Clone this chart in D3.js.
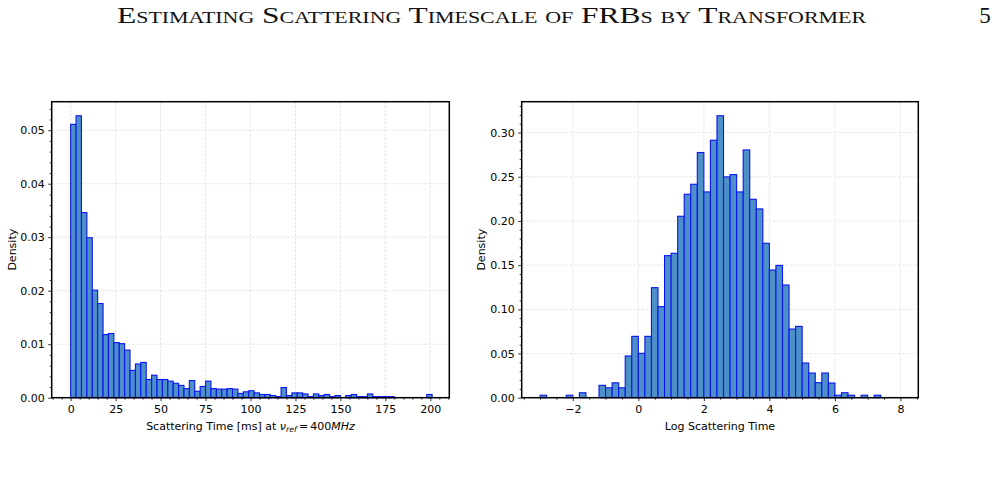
<!DOCTYPE html>
<html><head><meta charset="utf-8">
<script src="https://cdn.jsdelivr.net/npm/d3@7"></script>
<style>body{margin:0;background:#fff} svg{display:block}</style>
</head><body>
<svg id="c" width="996" height="504"></svg>
<script>
// ---------- data ----------
const titleText = "Estimating Scattering Timescale of FRBs by Transformer";
const pageNumber = "5";

const leftBinStart = 0;
const leftBinWidth = 3;
const leftDensity = [
  0.0511, 0.0527, 0.0346, 0.0299, 0.0201, 0.0176, 0.0118, 0.0120, 0.0103, 0.0101,
  0.0089, 0.0051, 0.0063, 0.0066, 0.0034, 0.0042, 0.0034, 0.0034, 0.0031, 0.0027,
  0.0023, 0.0017, 0.0032, 0.0012, 0.0021, 0.0031, 0.0017, 0.0016, 0.0016, 0.0017,
  0.0016, 0.0008, 0.0011, 0.0013, 0.0009, 0.0006, 0.0006, 0.0004, 0.0002, 0.0019,
  0.0004, 0.0009, 0.0009, 0.0007, 0.0002, 0.0007, 0.0004, 0.0006, 0.0002, 0.0004,
  0.0000, 0.0004, 0.0006, 0.0002, 0.0002, 0.0007, 0.0002, 0.0002, 0.0002, 0.0002,
  0.0000, 0.0000, 0.0000, 0.0000, 0.0000, 0.0000, 0.0006
];
const leftXTicks = [0, 25, 50, 75, 100, 125, 150, 175, 200];
const leftYTicks = [0.00, 0.01, 0.02, 0.03, 0.04, 0.05];
const leftXLim = [-10.55, 210.55];
const leftYLim = [0, 0.05533];

const rightBinStart = -3.0;
const rightBinWidth = 0.2;
const rightDensity = [
  0.0028, 0.0000, 0.0000, 0.0000, 0.0028, 0.0000, 0.0056, 0.0000, 0.0000, 0.0140,
  0.0112, 0.0168, 0.0112, 0.0472, 0.0694, 0.0502, 0.0694, 0.1245, 0.1030, 0.1607,
  0.1634, 0.2053, 0.2302, 0.2415, 0.2774, 0.2328, 0.2913, 0.3190, 0.2498, 0.2524,
  0.2328, 0.2803, 0.2245, 0.2136, 0.1747, 0.1445, 0.1497, 0.1275, 0.0777, 0.0807,
  0.0392, 0.0279, 0.0170, 0.0279, 0.0166, 0.0028, 0.0056, 0.0028, 0.0000, 0.0028,
  0.0000, 0.0028
];
const rightXTicks = [-2, 0, 2, 4, 6, 8];
const rightYTicks = [0.00, 0.05, 0.10, 0.15, 0.20, 0.25, 0.30];
const rightXLim = [-3.56, 8.545];
const rightYLim = [0, 0.3349];

// ---------- drawing ----------
const svg = d3.select("#c");
const FONT = "DejaVu Sans, sans-serif";
const FS = 11;

svg.append("text")
  .attr("x", 491.5).attr("y", 23)
  .attr("text-anchor", "middle")
  .attr("textLength", 749).attr("lengthAdjust", "spacingAndGlyphs")
  .style("font-family", "Liberation Serif, DejaVu Serif, serif")
  .style("font-variant", "small-caps")
  .style("font-size", "23px")
  .attr("fill", "#111")
  .text(titleText);

svg.append("text")
  .attr("x", 985).attr("y", 23)
  .attr("text-anchor", "middle")
  .style("font-family", "Liberation Serif, DejaVu Serif, serif")
  .style("font-size", "23px")
  .attr("fill", "#111")
  .text(pageNumber);

function panel(cfg) {
  const {x0, x1, y0, y1} = cfg.box;
  const x = d3.scaleLinear().domain(cfg.xlim).range([x0, x1]);
  const y = d3.scaleLinear().domain(cfg.ylim).range([y1, y0]);
  const g = svg.append("g");

  // grid
  const grid = g.append("g")
    .attr("stroke", "#b8b8b8").attr("stroke-width", 0.6)
    .attr("stroke-dasharray", "2.5,1.5").attr("opacity", 0.6);
  grid.selectAll(".gx").data(cfg.xticks).join("line")
    .attr("x1", d => x(d)).attr("x2", d => x(d)).attr("y1", y0).attr("y2", y1);
  grid.selectAll(".gy").data(cfg.yticks).join("line")
    .attr("y1", d => y(d)).attr("y2", d => y(d)).attr("x1", x0).attr("x2", x1);

  // bars
  const bins = cfg.density.map((v, i) => ({
    a: cfg.binStart + i * cfg.binWidth,
    b: cfg.binStart + (i + 1) * cfg.binWidth,
    v
  }));
  g.append("g").selectAll("rect").data(bins).join("rect")
    .attr("x", d => x(d.a))
    .attr("width", d => x(d.b) - x(d.a))
    .attr("y", d => y(d.v))
    .attr("height", d => y(0) - y(d.v))
    .attr("fill", "#4d8fc7")
    .attr("stroke", "#0a14f0")
    .attr("stroke-width", 1.1);

  // axes
  const xMinor = d3.axisBottom(x).tickValues(cfg.xminor).tickSize(2).tickFormat("");
  const yMinor = d3.axisLeft(y).tickValues(cfg.yminor).tickSize(2).tickFormat("");
  const xMajor = d3.axisBottom(x).tickValues(cfg.xticks).tickSize(3.5).tickPadding(4.5)
    .tickFormat(cfg.xfmt);
  const yMajor = d3.axisLeft(y).tickValues(cfg.yticks).tickSize(3.5).tickPadding(3.5)
    .tickFormat(cfg.yfmt);
  [[xMinor, "x"], [xMajor, "x"], [yMinor, "y"], [yMajor, "y"]].forEach(([ax, t]) => {
    const a = g.append("g")
      .attr("transform", t === "x" ? `translate(0,${y1})` : `translate(${x0},0)`)
      .call(ax);
    a.select(".domain").remove();
    a.selectAll("line").attr("stroke", "#000").attr("stroke-width", 0.8);
    a.selectAll("text").style("font-family", FONT).style("font-size", FS + "px").attr("fill", "#000");
  });

  // frame
  g.append("rect")
    .attr("x", x0).attr("y", y0).attr("width", x1 - x0).attr("height", y1 - y0)
    .attr("fill", "none").attr("stroke", "#000").attr("stroke-width", 1.5);

  // y label
  g.append("text")
    .attr("transform", `translate(${cfg.ylabelX},${(y0 + y1) / 2}) rotate(-90)`)
    .attr("text-anchor", "middle")
    .style("font-family", FONT).style("font-size", FS + "px")
    .text("Density");

  // x label
  const xl = g.append("text")
    .attr("x", (x0 + x1) / 2).attr("y", 429.5)
    .attr("text-anchor", "middle")
    .style("font-family", FONT).style("font-size", FS + "px");
  cfg.xlabel(xl);
}

const minus = v => (v < 0 ? "\u2212" + Math.abs(v) : String(v));

panel({
  box: {x0: 51.7, x1: 449.3, y0: 101.7, y1: 397.7},
  xlim: leftXLim, ylim: leftYLim,
  binStart: leftBinStart, binWidth: leftBinWidth, density: leftDensity,
  xticks: leftXTicks, yticks: leftYTicks,
  xminor: d3.range(-10, 211, 5).filter(v => !leftXTicks.includes(v)),
  yminor: d3.range(0, 56).map(i => i * 0.001).filter((v, i) => i % 2 === 0 && i % 10 !== 0),
  xfmt: d => String(d), yfmt: d3.format(".2f"),
  ylabelX: 15.5,
  xlabel: t => {
    t.append("tspan").text("Scattering Time [ms] at ");
    t.append("tspan").style("font-style", "italic").text("\u03bd");
    t.append("tspan").style("font-style", "italic").style("font-size", "7.8px")
      .attr("dy", 2.5).text("ref");
    t.append("tspan").attr("dy", -2.5).text("\u2009=\u2009400");
    t.append("tspan").style("font-style", "italic").text("MHz");
  }
});

panel({
  box: {x0: 521.7, x1: 918.3, y0: 101.7, y1: 397.7},
  xlim: rightXLim, ylim: rightYLim,
  binStart: rightBinStart, binWidth: rightBinWidth, density: rightDensity,
  xticks: rightXTicks, yticks: rightYTicks,
  xminor: d3.range(-7, 18).map(i => i * 0.5).filter(v => !rightXTicks.includes(v)),
  yminor: d3.range(0, 34).map(i => i * 0.01).filter((v, i) => i % 5 !== 0),
  xfmt: minus, yfmt: d3.format(".2f"),
  ylabelX: 484.5,
  xlabel: t => t.text("Log Scattering Time")
});
</script>
</body></html>
